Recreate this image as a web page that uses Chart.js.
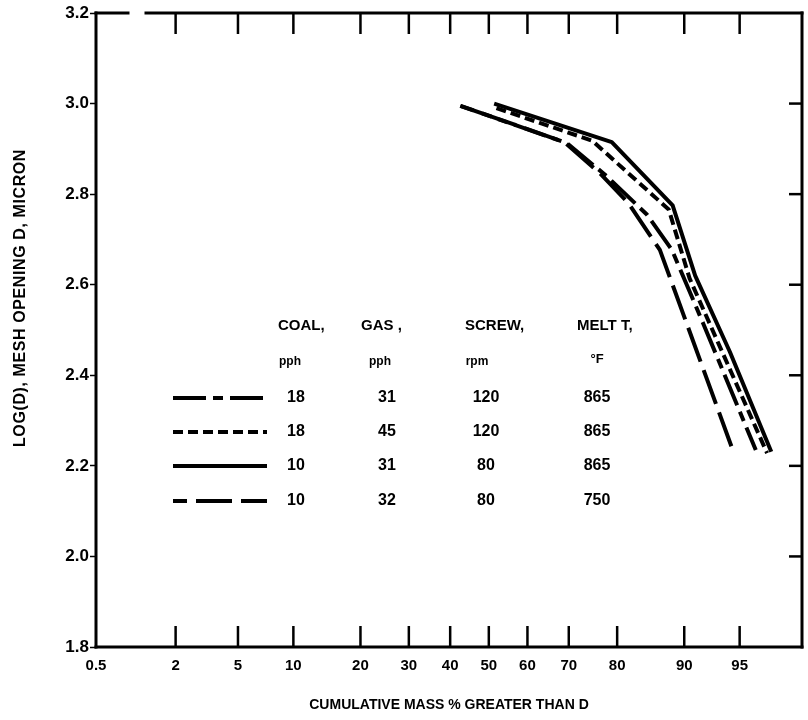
<!DOCTYPE html>
<html>
<head>
<meta charset="utf-8">
<script src="https://cdn.jsdelivr.net/npm/chart.js@4/dist/chart.umd.min.js"></script>
<style>
  body { margin: 0; background: #fff; }
  canvas { display: block; }
</style>
</head>
<body>
<canvas id="sizeChart" width="808" height="720"></canvas>
<script>
// cumulative mass % greater than D  vs  log(D) for four extruder runs

// probability axis ticks (percent)
var xTickPcts = [0.5, 2, 5, 10, 20, 30, 40, 50, 60, 70, 80, 90, 95];
var xTickLabels = ['0.5', '2', '5', '10', '20', '30', '40', '50', '60', '70', '80', '90', '95'];
var xMinPct = 0.5;
var xMaxPct = 98;

// run conditions (legend table)
var coal = [18, 18, 10, 10];
var gas = [31, 45, 31, 32];
var screw = [120, 120, 80, 80];
var meltT = [865, 865, 865, 750];

// run 1 : 18 pph coal, 31 pph gas, 120 rpm, 865 F
var pct1 = [42.6, 69.5, 78, 85, 88.5, 92, 96];
var logD1 = [2.995, 2.913, 2.84, 2.755, 2.677, 2.515, 2.235];
// run 2 : 18 pph coal, 45 pph gas, 120 rpm, 865 F
var pct2 = [52, 75.1, 88.1, 90.6, 96.6];
var logD2 = [2.99, 2.918, 2.766, 2.614, 2.228];
// run 3 : 10 pph coal, 31 pph gas, 80 rpm, 865 F
var pct3 = [51.4, 79, 88.6, 91.2, 94.3, 96.8];
var logD3 = [3.0, 2.915, 2.775, 2.62, 2.452, 2.231];
// run 4 : 10 pph coal, 32 pph gas, 80 rpm, 750 F
var pct4 = [42.6, 69, 76.7, 82, 86.9, 94.6];
var logD4 = [2.995, 2.915, 2.846, 2.78, 2.677, 2.228];

var dashes = [[33, 7, 10, 7], [10, 5], [], [36, 9]];
var dashOffsets = [0, 0, 0, 22];

var FONT = '"Liberation Sans", Arial, sans-serif';

// inverse normal cdf (Acklam) - maps a fraction onto the probability scale
function probit(p) {
  var a = [-3.969683028665376e+01, 2.209460984245205e+02, -2.759285104469687e+02, 1.383577518672690e+02, -3.066479806614716e+01, 2.506628277459239e+00];
  var b = [-5.447609879822406e+01, 1.615858368580409e+02, -1.556989798598866e+02, 6.680131188771972e+01, -1.328068155288572e+01];
  var c = [-7.784894002430293e-03, -3.223964580411365e-01, -2.400758277161838e+00, -2.549671664901460e+00, 4.374664141464968e+00, 2.938163982698783e+00];
  var d = [7.784695709041462e-03, 3.224671290700398e-01, 2.445134137142996e+00, 3.754408661907416e+00];
  var pl = 0.02425, q, r;
  if (p < pl) {
    q = Math.sqrt(-2 * Math.log(p));
    return (((((c[0]*q+c[1])*q+c[2])*q+c[3])*q+c[4])*q+c[5]) / ((((d[0]*q+d[1])*q+d[2])*q+d[3])*q+1);
  }
  if (p > 1 - pl) {
    q = Math.sqrt(-2 * Math.log(1 - p));
    return -(((((c[0]*q+c[1])*q+c[2])*q+c[3])*q+c[4])*q+c[5]) / ((((d[0]*q+d[1])*q+d[2])*q+d[3])*q+1);
  }
  q = p - 0.5; r = q * q;
  return (((((a[0]*r+a[1])*r+a[2])*r+a[3])*r+a[4])*r+a[5])*q / (((((b[0]*r+b[1])*r+b[2])*r+b[3])*r+b[4])*r+1);
}

function toPoints(pcts, logs) {
  return pcts.map(function(p, i) { return { x: probit(p / 100), y: logs[i] }; });
}

var series = [[pct1, logD1], [pct2, logD2], [pct3, logD3], [pct4, logD4]];

var datasets = series.map(function(s, i) {
  return {
    data: toPoints(s[0], s[1]),
    borderColor: '#000',
    borderWidth: 4,
    borderDash: dashes[i],
    borderDashOffset: dashOffsets[i],
    borderCapStyle: 'butt',
    borderJoinStyle: 'round',
    pointRadius: 0,
    tension: 0,
    fill: false
  };
});

function line(ctx, x1, y1, x2, y2) {
  ctx.beginPath(); ctx.moveTo(x1, y1); ctx.lineTo(x2, y2); ctx.stroke();
}

// box frame, inward tick marks, y title and the run-condition table
var framePlugin = {
  id: 'framePlugin',
  afterDraw: function(chart) {
    var ctx = chart.ctx, a = chart.chartArea;
    var xs = chart.scales.x, ys = chart.scales.y;
    ctx.save();
    ctx.strokeStyle = '#000';
    ctx.lineWidth = 3;
    ctx.lineCap = 'square';
    // top edge has a small break near the left corner
    line(ctx, a.left, a.top, a.left + 32, a.top);
    line(ctx, a.left + 50, a.top, a.right, a.top);
    line(ctx, a.right, a.top, a.right, a.bottom);
    line(ctx, a.right, a.bottom, a.left, a.bottom);
    line(ctx, a.left, a.bottom, a.left, a.top);

    ctx.lineCap = 'butt';
    ctx.lineWidth = 2.5;
    xs.ticks.forEach(function(t) {
      if (t.value <= xs.min + 1e-6) return;
      var px = xs.getPixelForValue(t.value);
      line(ctx, px, a.bottom, px, a.bottom - 21);
      line(ctx, px, a.top, px, a.top + 21);
    });
    ys.ticks.forEach(function(t) {
      if (t.value <= ys.min + 1e-6 || t.value >= ys.max - 1e-6) return;
      var py = ys.getPixelForValue(t.value);
      line(ctx, a.right, py, a.right - 13, py);
    });

    // y axis title
    ctx.fillStyle = '#000';
    ctx.save();
    ctx.translate(21, 298);
    ctx.rotate(-Math.PI / 2);
    ctx.font = 'bold 16px ' + FONT;
    ctx.letterSpacing = '0.6px';
    ctx.textAlign = 'center';
    ctx.textBaseline = 'middle';
    ctx.fillText('LOG(D), MESH OPENING D, MICRON', 0, 0);
    ctx.restore();

    // legend table
    ctx.textBaseline = 'middle';
    ctx.font = 'bold 15px ' + FONT;
    ctx.textAlign = 'left';
    ctx.fillText('COAL,', 278, 326);
    ctx.fillText('GAS ,', 361, 326);
    ctx.fillText('SCREW,', 465, 326);
    ctx.fillText('MELT T,', 577, 326);

    ctx.textAlign = 'center';
    ctx.font = 'bold 12px ' + FONT;
    ctx.fillText('pph', 290, 362);
    ctx.fillText('pph', 380, 362);
    ctx.fillText('rpm', 477, 362);
    ctx.font = 'bold 13px ' + FONT;
    ctx.fillText('\u00B0F', 597, 359);

    var rowY = [398, 432, 466, 501];
    ctx.font = 'bold 16px ' + FONT;
    for (var i = 0; i < coal.length; i++) {
      ctx.save();
      ctx.lineWidth = 4;
      ctx.lineCap = 'butt';
      ctx.setLineDash(dashes[i]);
      ctx.lineDashOffset = dashOffsets[i];
      line(ctx, 173, rowY[i], 267, rowY[i]);
      ctx.restore();
      ctx.fillText(String(coal[i]), 296, rowY[i]);
      ctx.fillText(String(gas[i]), 387, rowY[i]);
      ctx.fillText(String(screw[i]), 486, rowY[i]);
      ctx.fillText(String(meltT[i]), 597, rowY[i]);
    }
    ctx.restore();
  }
};

new Chart(document.getElementById('sizeChart'), {
  type: 'line',
  data: { datasets: datasets },
  options: {
    responsive: false,
    animation: false,
    layout: { padding: { left: 0, right: 6, top: 13, bottom: 0 } },
    plugins: { legend: { display: false }, tooltip: { enabled: false } },
    scales: {
      x: {
        type: 'linear',
        min: probit(xMinPct / 100),
        max: probit(xMaxPct / 100),
        afterBuildTicks: function(scale) {
          scale.ticks = xTickPcts.map(function(p) { return { value: probit(p / 100) }; });
        },
        afterFit: function(scale) { scale.height = 73; },
        grid: { display: false, drawTicks: false },
        border: { display: false },
        ticks: {
          autoSkip: false,
          maxRotation: 0,
          padding: 10,
          color: '#000',
          font: { family: FONT, size: 15, weight: 'bold' },
          callback: function(v, i) { return xTickLabels[i]; }
        },
        title: {
          display: true,
          text: 'CUMULATIVE MASS % GREATER THAN D',
          color: '#000',
          font: { family: FONT, size: 14, weight: 'bold' },
          padding: { top: 0, bottom: 6 }
        }
      },
      y: {
        min: 1.8,
        max: 3.2,
        afterFit: function(scale) { scale.width = 96; },
        grid: { display: true, drawOnChartArea: false, drawTicks: true, tickLength: 6, tickWidth: 1.5, tickColor: '#000' },
        border: { display: false },
        ticks: {
          stepSize: 0.2,
          padding: 1,
          color: '#000',
          font: { family: FONT, size: 17, weight: 'bold' },
          callback: function(v) { return v.toFixed(1); }
        }
      }
    }
  },
  plugins: [framePlugin]
});
</script>
</body>
</html>
